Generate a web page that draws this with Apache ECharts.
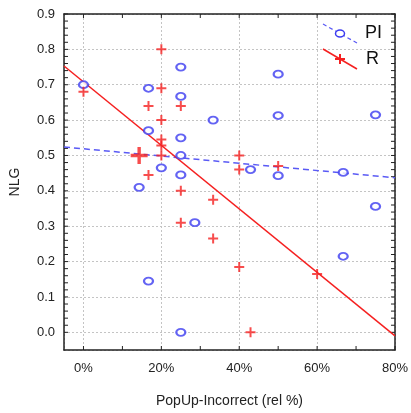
<!DOCTYPE html>
<html>
<head>
<meta charset="utf-8">
<script src="https://cdn.jsdelivr.net/npm/echarts@6/dist/echarts.min.js"></script>
<style>
  html, body { margin: 0; padding: 0; background: #fff; }
  #chart { width: 411px; height: 413px; }
</style>
</head>
<body>
<div id="chart"></div>
<script>
// PI (blue circles)
const piX = [0, 14.3, 16.7, 16.7, 16.7, 20, 25, 25, 25, 25, 25, 25, 28.6, 33.3, 42.9, 50, 50, 50, 66.7, 66.7, 75, 75];
const piY = [0.70, 0.41, 0.69, 0.57, 0.145, 0.465, 0.75, 0.667, 0.55, 0.50, 0.445, 0.0, 0.31, 0.60, 0.46, 0.73, 0.613, 0.443, 0.452, 0.215, 0.615, 0.356];
// R (red crosses)
const rX = [0, 16.7, 16.7, 20, 20, 20, 20, 20, 20, 25, 25, 25, 33.3, 33.3, 40, 40, 40, 42.9, 50, 60];
const rY = [0.68, 0.64, 0.445, 0.80, 0.69, 0.60, 0.545, 0.528, 0.50, 0.64, 0.40, 0.31, 0.375, 0.265, 0.50, 0.46, 0.185, 0.0, 0.47, 0.165];
// big red marker
const rBig = [14.3, 0.50];
// fitted lines (end points at the frame edges)
const piFitX = [-5, 80];
const piFitY = [0.524, 0.437];
const rFitX = [-5, 80];
const rFitY = [0.753, -0.01];

const xTicks = [0, 10, 20, 30, 40, 50, 60, 70, 80];
const yTicks = [];
for (let i = 0; i <= 45; i++) yTicks.push(+(i * 0.02).toFixed(2));

const blue = '#3c3cf0';
const red = '#f52020';
const plus = 'path://M4,0h2v4h4v2h-4v4h-2v-4h-4v-2h4z';
const frame = { show: true, onZero: false, lineStyle: { color: '#222', width: 1.5 } };
const grid = { show: true, lineStyle: { color: '#c4c4c4', type: [2, 2], width: 1 } };
const txt = { fontFamily: 'Liberation Sans', color: '#222' };
const X_EXT = { type: 'value', min: -5, max: 80 };
const Y_EXT = { type: 'value', min: -0.05, max: 0.9 };
const TICK = 4;

const pair = (xs, ys) => xs.map((x, i) => [x, ys[i]]);

// inward ticks on all four sides of the frame, placed through the axes
function tickItem(vertical) {
  return (params, api) => {
    const cs = params.coordSys;
    const p = api.coord([api.value(0), api.value(1)]);
    const st = { stroke: '#222', lineWidth: 1 };
    if (vertical) {
      const b = cs.y + cs.height;
      return { type: 'group', children: [
        { type: 'line', shape: { x1: p[0], y1: b, x2: p[0], y2: b - TICK }, style: st },
        { type: 'line', shape: { x1: p[0], y1: cs.y, x2: p[0], y2: cs.y + TICK }, style: st }
      ] };
    }
    const r = cs.x + cs.width;
    return { type: 'group', children: [
      { type: 'line', shape: { x1: cs.x, y1: p[1], x2: cs.x + TICK, y2: p[1] }, style: st },
      { type: 'line', shape: { x1: r, y1: p[1], x2: r - TICK, y2: p[1] }, style: st }
    ] };
  };
}

const chart = echarts.init(document.getElementById('chart'));
chart.setOption({
  animation: false,
  grid: { left: 64, right: 16, top: 14, bottom: 63 },
  xAxis: [{
    ...X_EXT, position: 'bottom',
    axisLine: frame, splitLine: grid, axisTick: { show: false },
    axisLabel: { ...txt, fontSize: 13, margin: 12, formatter: v => (v >= 0 && v % 20 === 0) ? v + '%' : '' },
    name: 'PopUp-Incorrect (rel %)', nameLocation: 'middle', nameGap: 44,
    nameTextStyle: { ...txt, fontSize: 14 }
  }, {
    ...X_EXT, position: 'top',
    axisLine: frame, splitLine: { show: false }, axisTick: { show: false }, axisLabel: { show: false }
  }],
  yAxis: [{
    ...Y_EXT, splitNumber: 10, position: 'left',
    axisLine: frame, splitLine: grid, axisTick: { show: false },
    axisLabel: { ...txt, fontSize: 13, margin: 9, formatter: v => v < 0 ? '' : v.toFixed(1) },
    name: 'NLG', nameLocation: 'middle', nameGap: 42,
    nameTextStyle: { ...txt, fontSize: 14 }
  }, {
    ...Y_EXT, position: 'right',
    axisLine: frame, splitLine: { show: false }, axisTick: { show: false }, axisLabel: { show: false }
  }],
  series: [{
    type: 'custom', data: xTicks.map(v => [v, 0]), renderItem: tickItem(true), z: 1, silent: true
  }, {
    type: 'custom', data: yTicks.map(v => [0, v]), renderItem: tickItem(false), z: 1, silent: true
  }, {
    type: 'line', data: pair(piFitX, piFitY), symbol: 'none',
    lineStyle: { color: '#5a5af5', width: 1.5, type: [6, 4] }, z: 2
  }, {
    type: 'line', data: pair(rFitX, rFitY), symbol: 'none',
    lineStyle: { color: red, width: 1.5 }, z: 2
  }, {
    type: 'scatter', data: pair(piX, piY), symbol: 'emptyCircle', symbolSize: [9, 7],
    itemStyle: { color: blue, borderColor: blue, borderWidth: 1.5 }, z: 3
  }, {
    type: 'scatter', data: pair(rX, rY), symbol: plus, symbolSize: 10,
    itemStyle: { color: red }, z: 4
  }, {
    type: 'scatter', data: [rBig], symbol: plus, symbolSize: 17,
    itemStyle: { color: red }, z: 5
  }],
  graphic: [
    { type: 'line', shape: { x1: 323, y1: 24, x2: 357, y2: 43 }, style: { stroke: '#5a5af5', lineWidth: 1.2, lineDash: [4, 3] }, z: 10 },
    { type: 'ellipse', shape: { cx: 340, cy: 33.5, rx: 4.5, ry: 3.5 }, style: { fill: '#fff', stroke: blue, lineWidth: 1.5 }, z: 11 },
    { type: 'text', left: 365, top: 24, style: { text: 'PI', font: '18px "Liberation Sans"', fill: '#111' }, z: 11 },
    { type: 'line', shape: { x1: 323, y1: 49, x2: 357, y2: 69 }, style: { stroke: red, lineWidth: 1.5 }, z: 10 },
    { type: 'line', shape: { x1: 335, y1: 59, x2: 345, y2: 59 }, style: { stroke: red, lineWidth: 2 }, z: 11 },
    { type: 'line', shape: { x1: 340, y1: 54, x2: 340, y2: 64 }, style: { stroke: red, lineWidth: 2 }, z: 11 },
    { type: 'text', left: 366, top: 50, style: { text: 'R', font: '18px "Liberation Sans"', fill: '#111' }, z: 11 }
  ]
});
</script>
</body>
</html>
